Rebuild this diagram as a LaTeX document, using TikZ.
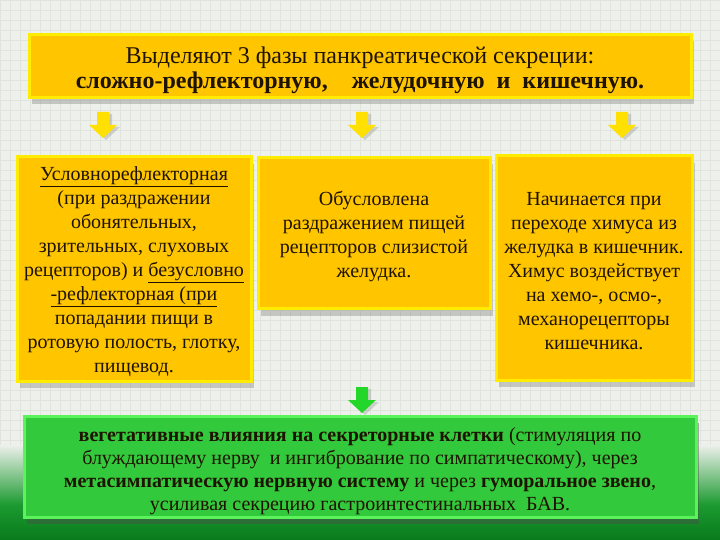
\documentclass[tikz,border=0pt]{standalone}
\usepackage{fontspec}
\setmainfont{Liberation Serif}
\usetikzlibrary{shadows}
\definecolor{bgcol}{HTML}{EDF0EB}
\definecolor{gridcol}{HTML}{E0E4DD}
\definecolor{boxfill}{HTML}{FFC600}
\definecolor{boxedge}{HTML}{FFEC00}
\definecolor{grfill}{HTML}{33C93C}
\definecolor{gredge}{HTML}{5CF25C}
\definecolor{bgreen}{HTML}{1B9A30}
\definecolor{dgreen}{HTML}{0A7A1C}
\definecolor{txt}{HTML}{1E1200}
\definecolor{arry}{HTML}{FFE000}
\definecolor{arrg}{HTML}{22D62A}
\tikzset{
  ybox/.style={draw=boxedge, line width=3pt, fill=boxfill, inner sep=0pt,
    drop shadow={shadow xshift=3pt, shadow yshift=-7pt, opacity=0.3, fill=black!60}},
  gbox/.style={draw=gredge, line width=3pt, fill=grfill, inner sep=0pt,
    drop shadow={shadow xshift=3pt, shadow yshift=-7pt, opacity=0.45, fill=black!70}},
  boxlabel/.style={text=txt, align=center, inner sep=0pt, yshift=-3pt},
  arrowshadow/.style={drop shadow={shadow xshift=3pt, shadow yshift=-2pt, opacity=0.3, fill=black!50}},
  boxtext/.style={font=\fontsize{20}{24}\selectfont},
}
\newcommand{\downblock}[2]{%
  \fill[#2, arrowshadow] (#1) ++(-6,-13) -- ++(12,0) -- ++(0,13) -- ++(8,0) -- ++(-14,13) -- ++(-14,-13) -- ++(8,0) -- cycle;}
\begin{document}
\begin{tikzpicture}[x=1pt,y=-1pt]
\useasboundingbox (0,0) rectangle (720,540);
% background
\fill[bgcol] (0,0) rectangle (720,540);
\foreach \g in {0,10,...,720} \draw[gridcol, line width=0.4pt] (\g,0) -- (\g,540);
\foreach \g in {0,10,...,540} \draw[gridcol, line width=0.4pt] (0,\g) -- (720,\g);
\shade[top color=bgcol, bottom color=bgreen] (0,445) rectangle (720,505);
\shade[top color=bgreen, bottom color=dgreen] (0,505) rectangle (720,540);
% title
\node[ybox, minimum width=662pt, minimum height=63pt] (title) at (360,66) {};
\node[boxlabel, font=\fontsize{24}{25}\selectfont, yshift=-1pt] (titlet) at (title)
  {Выделяют 3 фазы панкреатической секреции:\\
   \textbf{сложно-рефлекторную,\quad желудочную\ \ и\ \ кишечную.}};
% arrows
\coordinate (a1) at (103,125);
\coordinate (a2) at (362,125);
\coordinate (a3) at (622,125);
\downblock{a1}{arry}
\downblock{a2}{arry}
\downblock{a3}{arry}
% boxes
\node[ybox, minimum width=234pt, minimum height=224pt] (b1) at (134,269) {};
\node[boxlabel, boxtext] (b1t) at (b1)
  {\underline{Условнорефлекторная}\\
   (при раздражении\\
   обонятельных,\\
   зрительных, слуховых\\
   рецепторов) и \underline{безусловно}\\
   \underline{-рефлекторная (при}\\
   попадании пищи в\\
   ротовую полость, глотку,\\
   пищевод.};
\node[ybox, minimum width=232pt, minimum height=151pt] (b2) at (374,233) {};
\node[boxlabel, boxtext] (b2t) at (b2)
  {Обусловлена\\
   раздражением пищей\\
   рецепторов слизистой\\
   желудка.};
\node[ybox, minimum width=196pt, minimum height=224pt] (b3) at (594,268) {};
\node[boxlabel, boxtext] (b3t) at (b3)
  {Начинается при\\
   переходе химуса из\\
   желудка в кишечник.\\
   Химус воздействует\\
   на хемо-, осмо-,\\
   механорецепторы\\
   кишечника.};
% green arrow
\coordinate (a4) at (362,400);
\downblock{a4}{arrg}
% green box
\node[gbox, minimum width=672pt, minimum height=101pt] (g) at (360,466.5) {};
\node[boxlabel, font=\fontsize{20}{23}\selectfont, yshift=-2pt] (gt) at (g)
  {\textbf{вегетативные влияния на секреторные клетки} (стимуляция по\\
   блуждающему нерву\ \ и ингибрование по симпатическому), через\\
   \textbf{метасимпатическую нервную систему} и через \textbf{гуморальное звено},\\
   усиливая секрецию гастроинтестинальных\ \ БАВ.};
\end{tikzpicture}
\end{document}
